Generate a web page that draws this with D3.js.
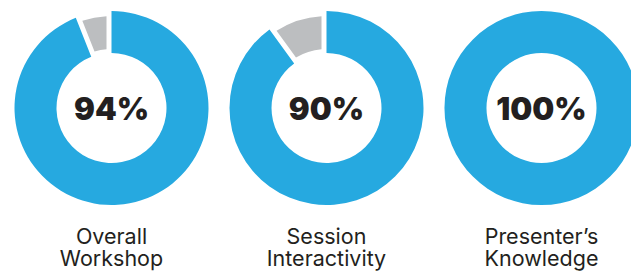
<!DOCTYPE html>
<html>
<head>
<meta charset="utf-8">
<script src="https://cdn.jsdelivr.net/npm/d3@7"></script>
<style>
  body { margin: 0; background: #fff; }
  svg { display: block; }
</style>
</head>
<body>
<div id="chart"></div>
<script>
// survey ratings, percent "yes" per question
var categories = ["Overall Workshop", "Session Interactivity", "Presenter\u2019s Knowledge"];
var labelLines = [["Overall", "Workshop"], ["Session", "Interactivity"], ["Presenter\u2019s", "Knowledge"]];
var percents = [94, 90, 100];

var svgWidth = 631, svgHeight = 271;
var blue = "#26a9e0", grey = "#bcbec0", ink = "#231f20";

var svg = d3.select("#chart")
  .append("svg")
  .attr("width", svgWidth)
  .attr("height", svgHeight);

// donut centres spread along x
var x = d3.scalePoint()
  .domain(categories)
  .range([111.5, 541.5]);
var cy = 108;

var pie = d3.pie().sort(null).value(d => d);

// blue part: full ring
var arcMain = d3.arc()
  .innerRadius(55)
  .outerRadius(97);

// grey remainder: thinner and pulled away from the blue
var arcRest = d3.arc()
  .innerRadius(59)
  .outerRadius(92)
  .padRadius(100)
  .padAngle(0.1);

categories.forEach(function(cat, i) {
  var g = svg.append("g")
    .attr("transform", `translate(${x(cat)}, ${cy})`);

  var slices = pie([percents[i], 100 - percents[i]]);

  g.append("path")
    .attr("d", arcMain(slices[0]))
    .attr("fill", blue);

  if (slices[1].endAngle - slices[1].startAngle > 0) {
    g.append("path")
      .attr("d", arcRest(slices[1]))
      .attr("fill", grey);
  }

  g.append("text")
    .attr("text-anchor", "middle")
    .attr("y", 12)
    .attr("font-family", "Inter, sans-serif")
    .attr("font-weight", 900)
    .attr("font-size", 31)
    .attr("fill", ink)
    .text(percents[i] + "%");

  var label = svg.append("text")
    .attr("text-anchor", "middle")
    .attr("font-family", "Inter, sans-serif")
    .attr("font-weight", 400)
    .attr("font-size", 21.5)
    .attr("fill", ink);
  labelLines[i].forEach(function(line, j) {
    label.append("tspan")
      .attr("x", x(cat))
      .attr("y", 243.5 + j * 22)
      .text(line);
  });
});
</script>
</body>
</html>
